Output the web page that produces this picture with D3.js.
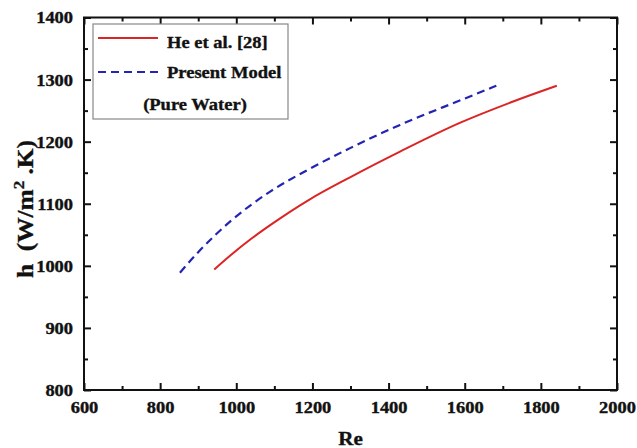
<!DOCTYPE html>
<html><head><meta charset="utf-8">
<script src="https://cdn.jsdelivr.net/npm/d3@7"></script>
<style>
body{margin:0;background:#fff;}
text{font-family:"Liberation Serif","Times New Roman",serif;font-weight:bold;fill:#111;stroke:#111;stroke-width:0.35px;}
</style>
</head><body>
<svg id="c" width="637" height="448"></svg>
<script>
// ---- data ----
const heRe    = [942, 985, 1040, 1090, 1190, 1300, 1430, 1590, 1720, 1842];
const heH     = [994, 1017, 1044, 1066, 1106, 1143, 1184, 1231, 1263, 1290];
const modelRe = [852, 900, 985, 1090, 1195, 1300, 1430, 1590, 1683];
const modelH  = [989, 1022, 1072, 1120, 1157, 1190, 1227, 1267, 1290];
const xTicks  = [600, 800, 1000, 1200, 1400, 1600, 1800, 2000];
const xMinor  = [700, 900, 1100, 1300, 1500, 1700, 1900];
const yTicks  = [800, 900, 1000, 1100, 1200, 1300, 1400];
const yMinor  = [850, 950, 1050, 1150, 1250, 1350];
const legendLabels = ["He et al. [28]", "Present Model", "(Pure Water)"];
const xTitle = "Re";

const svg = d3.select("#c");
const L = 84, R = 617, T = 17.5, B = 390;
const x = d3.scaleLinear().domain([600, 2000]).range([L, R]);
const y = d3.scaleLinear().domain([800, 1400]).range([B, T]);
const SX = 1.15; // horizontal widening of the reference's lettering

function stretch(sel, s){
  sel.each(function(){
    const t = d3.select(this);
    const ax = +t.attr("x") || 0, ay = +t.attr("y") || 0;
    t.attr("transform", `translate(${ax},${ay}) scale(${s},1) translate(${-ax},${-ay})`);
  });
}
function styleAxis(g){
  g.select(".domain").remove();
  g.selectAll(".tick line").attr("stroke","#111").attr("stroke-width",2);
  g.selectAll("text").style("font-size","16px").attr("fill","#111");
}
// bottom
svg.append("g").attr("transform",`translate(0,${B})`)
  .call(d3.axisBottom(x).tickValues(xTicks).tickSize(-7).tickPadding(0).tickFormat(d3.format("d")))
  .call(styleAxis).call(g=>{ g.selectAll("text").attr("y",23).attr("dy",0); stretch(g.selectAll("text"), SX); });
svg.append("g").attr("transform",`translate(0,${B})`)
  .call(d3.axisBottom(x).tickValues(xMinor).tickSize(-4).tickFormat(""))
  .call(styleAxis);
// top
svg.append("g").attr("transform",`translate(0,${T})`)
  .call(d3.axisTop(x).tickValues(xTicks).tickSize(-7).tickFormat(""))
  .call(styleAxis);
svg.append("g").attr("transform",`translate(0,${T})`)
  .call(d3.axisTop(x).tickValues(xMinor).tickSize(-4).tickFormat(""))
  .call(styleAxis);
// left
svg.append("g").attr("transform",`translate(${L},0)`)
  .call(d3.axisLeft(y).tickValues(yTicks).tickSize(-7).tickPadding(11).tickFormat(d3.format("d")))
  .call(styleAxis).call(g=>{ g.selectAll("text").attr("y",0).attr("dy","0.34em"); stretch(g.selectAll("text"), SX); });
svg.append("g").attr("transform",`translate(${L},0)`)
  .call(d3.axisLeft(y).tickValues(yMinor).tickSize(-4).tickFormat(""))
  .call(styleAxis);
// right
svg.append("g").attr("transform",`translate(${R},0)`)
  .call(d3.axisRight(y).tickValues(yTicks).tickSize(-7).tickFormat(""))
  .call(styleAxis);
svg.append("g").attr("transform",`translate(${R},0)`)
  .call(d3.axisRight(y).tickValues(yMinor).tickSize(-4).tickFormat(""))
  .call(styleAxis);

// frame
svg.append("rect").attr("x",L).attr("y",T).attr("width",R-L).attr("height",B-T)
  .attr("fill","none").attr("stroke","#111").attr("stroke-width",2);

// curves
const line = d3.line().x(d=>x(d[0])).y(d=>y(d[1])).curve(d3.curveMonotoneX);
const heData = heRe.map((r,i)=>[r, heH[i]]);
const modelData = modelRe.map((r,i)=>[r, modelH[i]]);
svg.append("path").attr("d", line(heData)).attr("fill","none")
  .attr("stroke","#dc2424").attr("stroke-width",2);
svg.append("path").attr("d", line(modelData)).attr("fill","none")
  .attr("stroke","#2424b4").attr("stroke-width",2.2).attr("stroke-dasharray","8,5");

// legend
const lg = svg.append("g");
lg.append("rect").attr("x",93).attr("y",24).attr("width",195).attr("height",95)
  .attr("fill","#fff").attr("stroke","#888").attr("stroke-width",1.2);
lg.append("line").attr("x1",98).attr("x2",158).attr("y1",38).attr("y2",38)
  .attr("stroke","#dc2424").attr("stroke-width",2);
lg.append("line").attr("x1",98).attr("x2",160).attr("y1",72).attr("y2",72)
  .attr("stroke","#2424b4").attr("stroke-width",2.2).attr("stroke-dasharray","8,5");
const lt = [
  lg.append("text").attr("x",167).attr("y",48).text(legendLabels[0]),
  lg.append("text").attr("x",167).attr("y",78).text(legendLabels[1]),
  lg.append("text").attr("x",195).attr("y",110).attr("text-anchor","middle").text(legendLabels[2])
];
lt.forEach(t=>{ t.style("font-size","17px"); stretch(t, 1.09); });

// axis titles
const xt = svg.append("text").attr("x",(L+R)/2).attr("y",445).attr("text-anchor","middle")
  .style("font-size","18px").text(xTitle);
stretch(xt, 1.17);

const ytg = svg.append("g");
const yt = ytg.append("text").attr("x",0).attr("y",0).attr("text-anchor","middle")
  .style("font-size","24px").style("white-space","pre");
yt.append("tspan").text("h  (W/m");
yt.append("tspan").attr("dy",-10).style("font-size","16px").text("2");
yt.append("tspan").attr("dy",10).text(" .K)");
const len = yt.node().getComputedTextLength();
const sAlong = 138 / len;
ytg.attr("transform", `translate(33,209) rotate(-90) scale(${sAlong},0.95)`);
</script>
</body></html>
